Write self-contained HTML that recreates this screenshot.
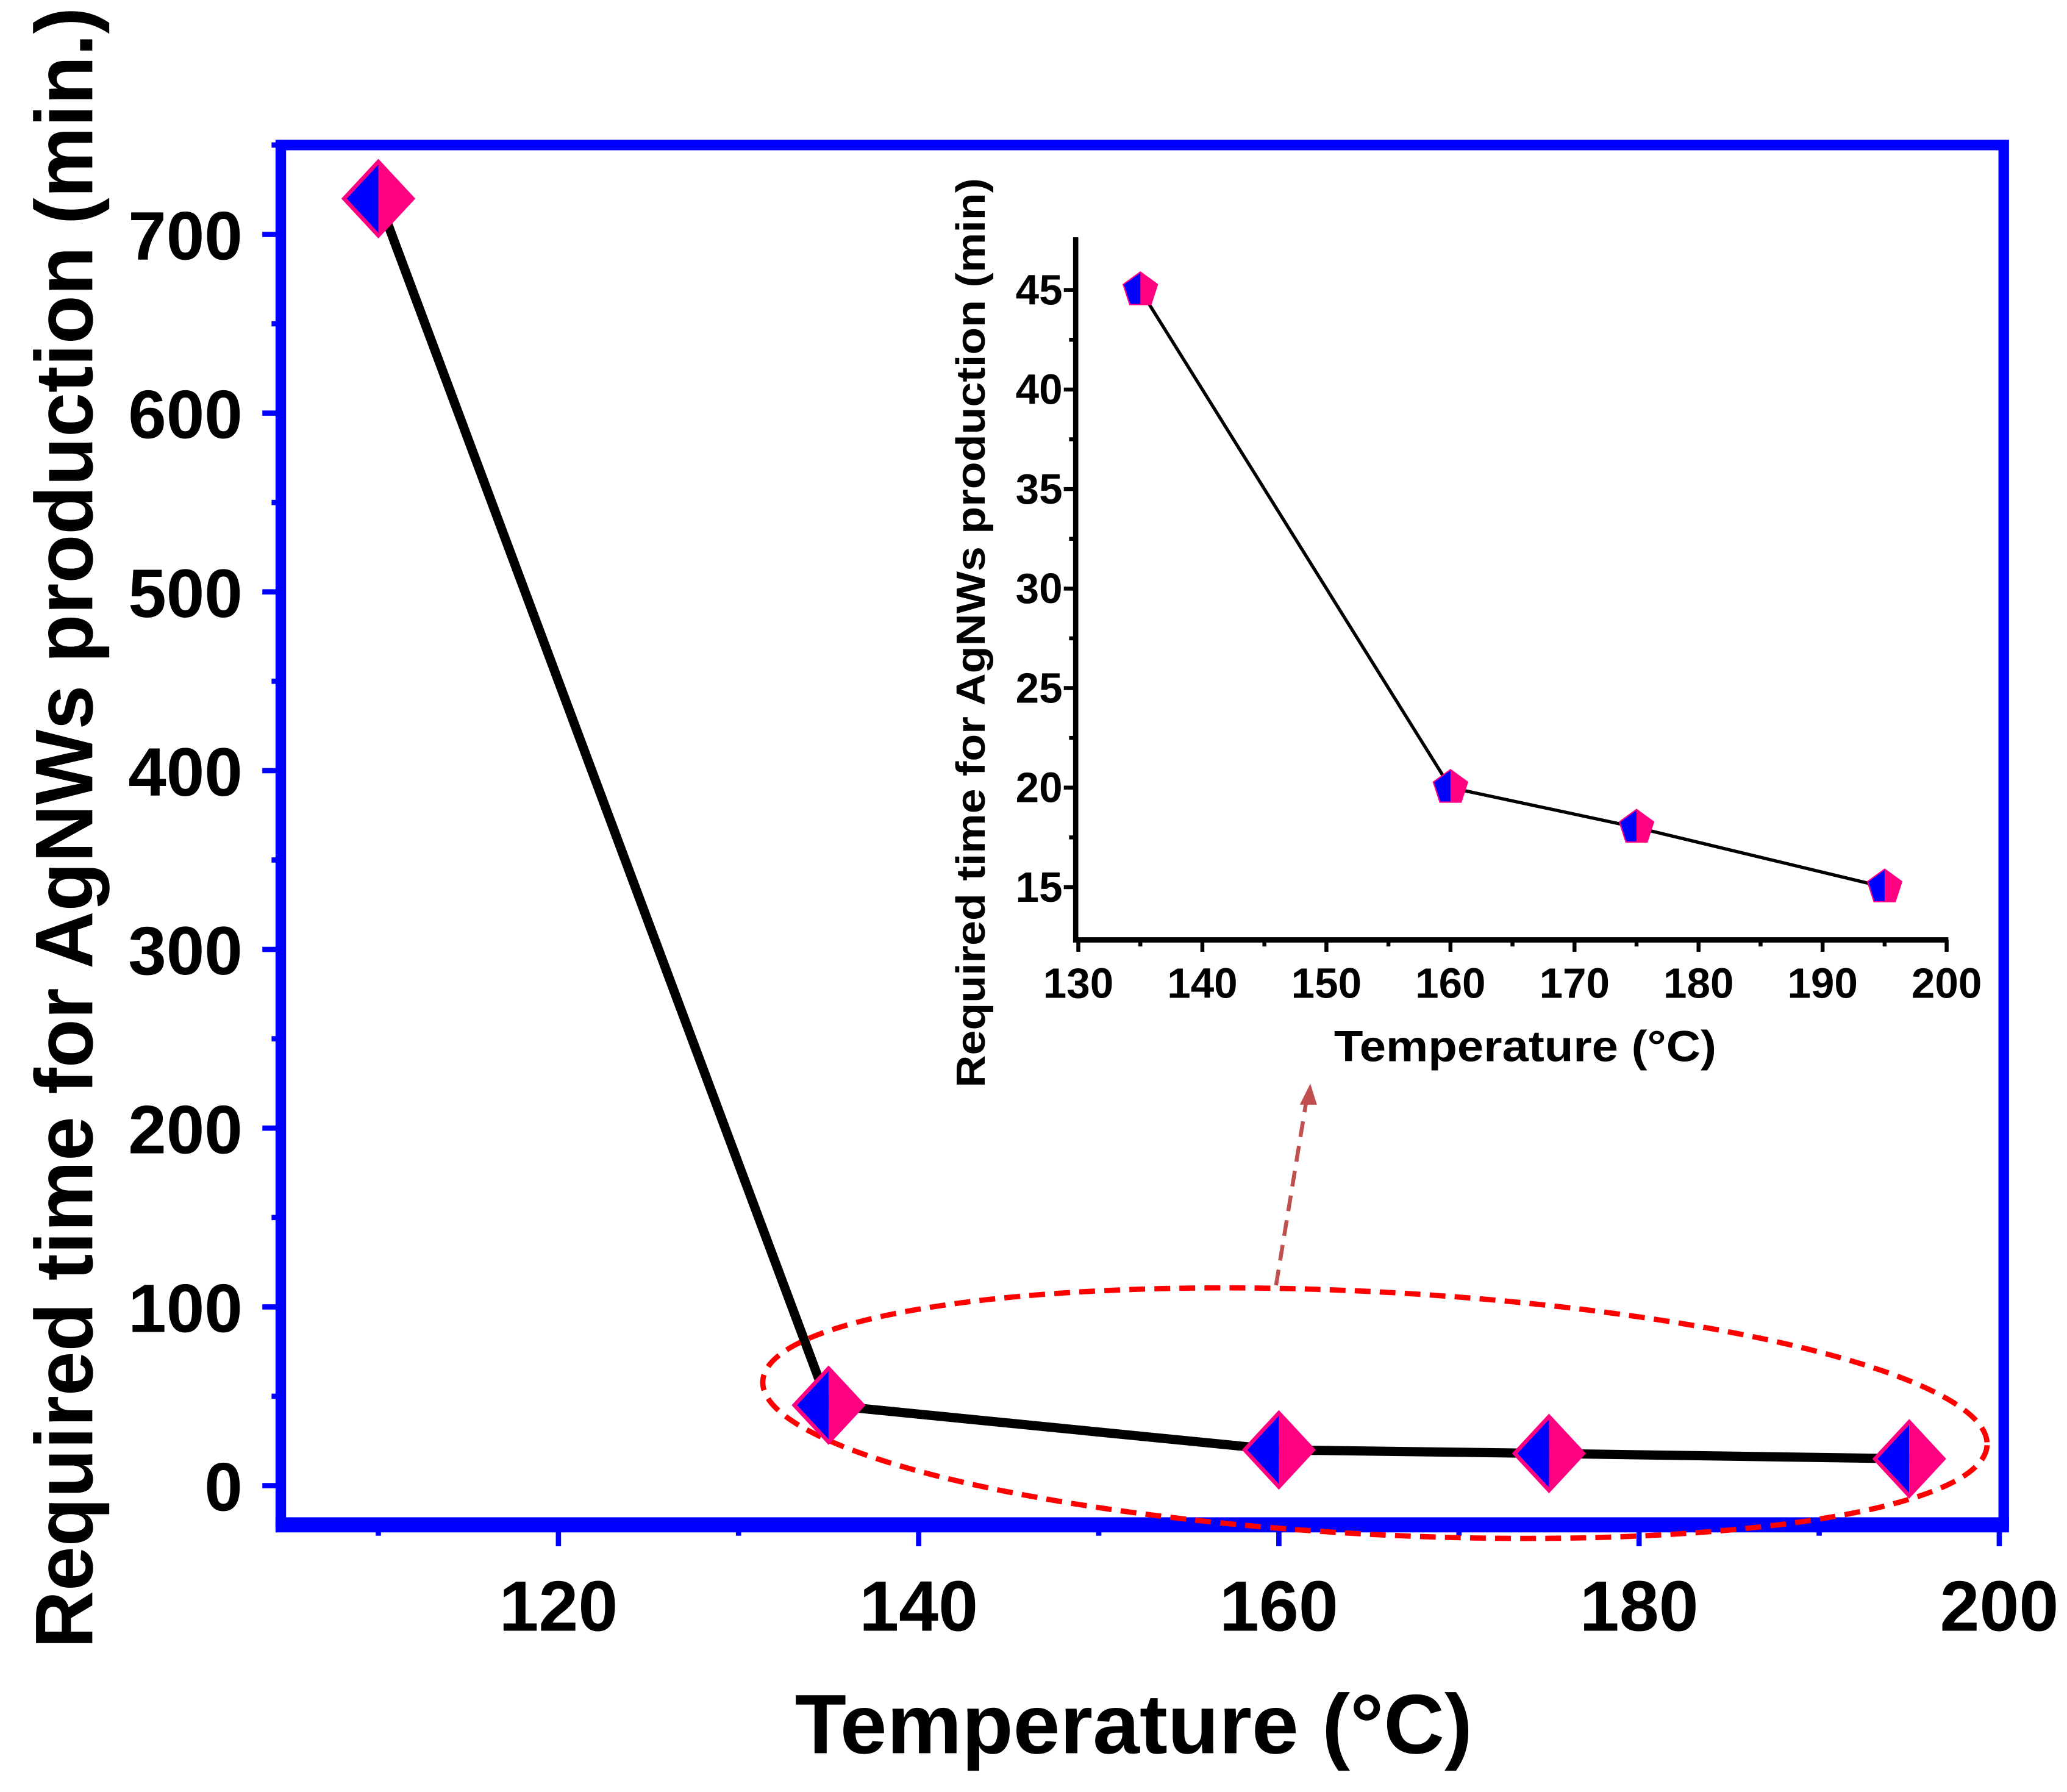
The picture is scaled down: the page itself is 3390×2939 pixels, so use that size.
<!DOCTYPE html>
<html><head><meta charset="utf-8"><style>
html,body{margin:0;padding:0;background:#fff;}
svg{display:block;font-family:"Liberation Sans",Arial,sans-serif;font-weight:bold;}
</style></head><body>
<svg id="chart" width="3390" height="2939" viewBox="0 0 1568 1359.4" preserveAspectRatio="none" xmlns="http://www.w3.org/2000/svg">
<rect width="1568" height="1360" fill="#fff"/>
<g id="main"></g>
<g id="inset"></g>
</svg>
<script>
const mainTemps = [110, 135, 160, 175, 195];
const mainTimes = [720, 45, 20, 18, 15];
const mainXTicks = [120, 140, 160, 180, 200];
const mainYTicks = [0, 100, 200, 300, 400, 500, 600, 700];
const insetTemps = [135, 160, 175, 195];
const insetTimes = [45, 20, 18, 15];
const insetXTicks = [130, 140, 150, 160, 170, 180, 190, 200];
const insetYTicks = [15, 20, 25, 30, 35, 40, 45];

const NS = "http://www.w3.org/2000/svg";
function mk(tag, attrs, parent, text){
  const e = document.createElementNS(NS, tag);
  for (const k in attrs) e.setAttribute(k, attrs[k]);
  if (text !== undefined) e.textContent = text;
  parent.appendChild(e);
  return e;
}
const main = document.getElementById('main');
const inset = document.getElementById('inset');

const L=213, R=1520, T=110, B=1155;
const mx = v => 287 + (v-110)*273.25/20;
const my = v => 1127 - v*1.356;

for (let v=110; v<=200; v+=10){
  const major = mainXTicks.includes(v);
  const t = mk('line',{x1:mx(v),x2:mx(v),y1:B,y2:B+(major?18:10),stroke:'#0000ff','stroke-width':4},main);
  
  
}
for (let v=0; v<=750; v+=50){
  const major = mainYTicks.includes(v);
  const t = mk('line',{x1:L,x2:L-(major?14:7),y1:my(v),y2:my(v),stroke:'#0000ff','stroke-width':4},main);
  
  
}
const frame = mk('rect',{x:L,y:T,width:R-L,height:B-T,fill:'none',stroke:'#0000ff','stroke-width':8},main);


const bax = mk('line',{x1:L-4,x2:R+4,y1:B+2,y2:B+2,stroke:'#0000ff','stroke-width':11},main);



mainXTicks.forEach(v=>{
  const t = mk('text',{x:mx(v),y:1237,'font-size':54,'text-anchor':'middle',fill:'#000'},main,String(v));
  
  
});
mainYTicks.forEach(v=>{
  const t = mk('text',{x:184,y:my(v)+19,'font-size':52,'text-anchor':'end',fill:'#000'},main,String(v));
  
  
});
const xt = mk('text',{x:860,y:1330,'font-size':64,'text-anchor':'middle',textLength:514,lengthAdjust:'spacingAndGlyphs',fill:'#000'},main,'Temperature (°C)');


const yt = mk('text',{x:0,y:0,'font-size':62,'text-anchor':'middle',textLength:1245,lengthAdjust:'spacingAndGlyphs',fill:'#000',transform:'translate(70,628) rotate(-90)'},main,'Required time for AgNWs production (min.)');



const pts = mainTemps.map((t,i)=>mx(t)+','+my(mainTimes[i])).join(' ');
const ln = mk('polyline',{points:pts,fill:'none',stroke:'#000','stroke-width':7},main);



const el = mk('ellipse',{cx:1043,cy:1072,rx:465,ry:92,fill:'none',stroke:'#ff0000','stroke-width':4,'stroke-dasharray':'12 7',transform:'rotate(3 1043 1072)'},main);


const ar = mk('line',{x1:968,y1:975,x2:991,y2:835,stroke:'#c0504d','stroke-width':3,'stroke-dasharray':'12 7'},main);


const ah = mk('polygon',{points:'986,838 999,838 994,822',fill:'#c0504d'},main);



mainTemps.forEach((t,i)=>{
  const cx=mx(t), cy=my(mainTimes[i]), w=26, h=28;
  const g = mk('g',{},main);
  
  
  mk('polygon',{points:`${cx},${cy-h} ${cx-w},${cy} ${cx},${cy+h}`,fill:'#0000ff'},g);
  mk('polygon',{points:`${cx},${cy-h} ${cx+w},${cy} ${cx},${cy+h}`,fill:'#ff0080'},g);
  mk('polygon',{points:`${cx},${cy-h} ${cx-w},${cy} ${cx},${cy+h} ${cx+w},${cy}`,fill:'none',stroke:'#ff0080','stroke-width':3},g);
});

const IL=816, IB=713, IT=180, IR=1478;
const ix = v => 818 + (v-130)*9.41;
const iy = v => 220 + (45-v)*15.1;
for (let v=130; v<=200; v+=5){
  const major = insetXTicks.includes(v);
  const t = mk('line',{x1:ix(v),x2:ix(v),y1:IB,y2:IB+(major?9:5),stroke:'#000','stroke-width':3},inset);
  
  
}
for (let v=15; v<=45; v+=2.5){
  const major = insetYTicks.includes(v);
  const t = mk('line',{x1:IL,x2:IL-(major?9:5),y1:iy(v),y2:iy(v),stroke:'#000','stroke-width':3},inset);
  
  
}
const ax = mk('polyline',{points:`${IL},${IT} ${IL},${IB} ${IR},${IB}`,fill:'none',stroke:'#000','stroke-width':4},inset);


insetXTicks.forEach(v=>{
  const t = mk('text',{x:ix(v),y:757,'font-size':32,'text-anchor':'middle',fill:'#000'},inset,String(v));
  
  
});
insetYTicks.forEach(v=>{
  const t = mk('text',{x:806,y:iy(v)+11,'font-size':32,'text-anchor':'end',fill:'#000'},inset,String(v));
  
  
});
const ixt = mk('text',{x:1157,y:805,'font-size':33,'text-anchor':'middle',textLength:290,lengthAdjust:'spacingAndGlyphs',fill:'#000'},inset,'Temperature (°C)');


const iyt = mk('text',{x:0,y:0,'font-size':31,'text-anchor':'middle',textLength:690,lengthAdjust:'spacingAndGlyphs',fill:'#000',transform:'translate(747,480) rotate(-90)'},inset,'Required time for AgNWs production (min)');


const ipts = insetTemps.map((t,i)=>ix(t)+','+iy(insetTimes[i])).join(' ');
const iln = mk('polyline',{points:ipts,fill:'none',stroke:'#000','stroke-width':2.5},inset);


insetTemps.forEach((t,i)=>{
  const cx=ix(t), cy=iy(insetTimes[i]), r=13;
  const p=[];
  for(let k=0;k<5;k++){const a=-Math.PI/2+k*2*Math.PI/5;p.push([cx+r*Math.cos(a),cy+r*Math.sin(a)]);}
  const g = mk('g',{},inset);
  
  
  mk('polygon',{points:p.map(q=>q.join(',')).join(' '),fill:'#ff0080',stroke:'#ff0080','stroke-width':2},g);
  mk('polygon',{points:`${cx},${cy-r} ${p[4][0]},${p[4][1]} ${p[3][0]},${p[3][1]} ${cx},${p[3][1]}`,fill:'#0000ff'},g);
});
</script>
</body></html>
